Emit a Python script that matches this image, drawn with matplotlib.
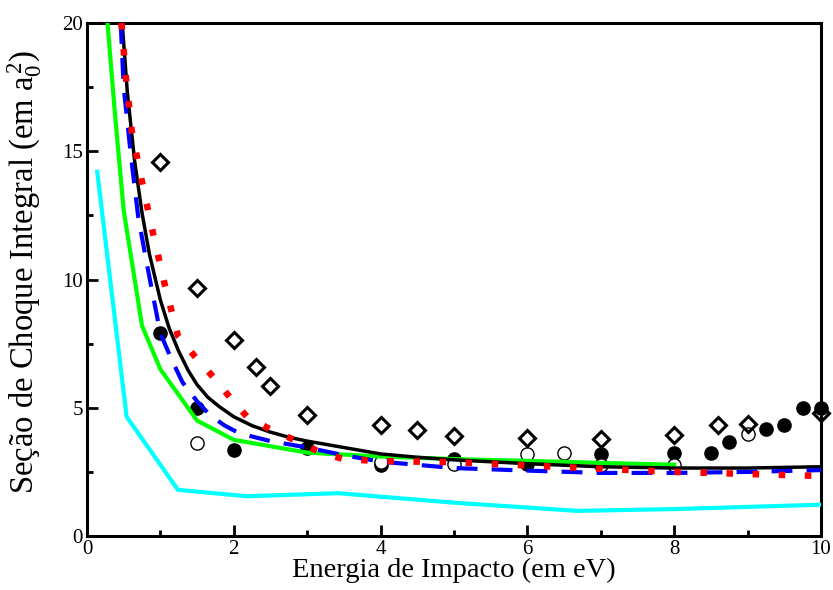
import numpy as np
import matplotlib
matplotlib.use("Agg")
import matplotlib.pyplot as plt

plt.rcParams['font.family'] = ['Liberation Serif', 'DejaVu Serif']
plt.rcParams['mathtext.fontset'] = 'custom'
plt.rcParams['mathtext.rm'] = 'Liberation Serif'
plt.rcParams['mathtext.it'] = 'Liberation Serif:italic'

# curves (theory)
black_x = [0.48, 0.55, 0.65, 0.75, 0.85, 1.0, 1.12, 1.25, 1.38, 1.5, 1.65, 1.8, 2.0, 2.25, 2.5, 2.75, 3.0, 3.5, 4.0, 4.5, 5.0, 6.0, 7.0, 8.0, 9.0, 10.0]
black_y = [20.0, 17.3, 14.6, 12.6, 11.0, 9.2, 8.1, 7.2, 6.45, 5.9, 5.4, 5.05, 4.65, 4.3, 4.05, 3.85, 3.7, 3.45, 3.2, 3.07, 2.97, 2.82, 2.7, 2.65, 2.65, 2.7]

blue_x = [0.46, 0.5, 0.6, 0.7, 0.83, 1.0, 1.15, 1.3, 1.5, 1.68, 1.88, 2.08, 2.5, 3.0, 3.5, 4.0, 5.0, 6.0, 7.0, 8.0, 9.0, 10.0]
blue_y = [20.0, 17.5, 14.8, 12.4, 10.4, 7.9, 6.9, 6.0, 5.25, 4.7, 4.3, 4.0, 3.7, 3.45, 3.15, 2.9, 2.65, 2.55, 2.46, 2.46, 2.5, 2.57]

red_x = [0.47, 0.53, 0.61, 0.75, 0.9, 1.06, 1.24, 1.47, 1.72, 1.95, 2.18, 2.49, 2.83, 3.15, 3.49, 4.0, 5.0, 6.0, 7.0, 8.0, 9.0, 10.0]
red_y = [20.0, 17.9, 15.8, 13.8, 11.8, 9.8, 7.8, 7.0, 6.2, 5.4, 4.65, 4.17, 3.74, 3.3, 3.0, 2.92, 2.88, 2.75, 2.62, 2.5, 2.42, 2.34]

green_x = [0.28, 0.38, 0.5, 0.75, 1.0, 1.5, 2.0, 3.0, 4.0, 5.0, 6.0, 7.0, 8.0]
green_y = [20.0, 16.5, 12.7, 8.2, 6.5, 4.5, 3.75, 3.25, 3.1, 3.0, 2.93, 2.85, 2.78]

cyan_x = [0.14, 0.54, 1.24, 2.18, 3.42, 5.0, 6.68, 8.0, 10.0]
cyan_y = [14.2, 4.65, 1.8, 1.55, 1.67, 1.3, 0.98, 1.05, 1.22]

# experimental points
diam_x = [1.0, 1.5, 2.0, 2.3, 2.5, 3.0, 4.0, 4.5, 5.0, 6.0, 7.0, 8.0, 8.6, 9.0, 10.0]
diam_y = [14.6, 9.67, 7.64, 6.6, 5.86, 4.72, 4.33, 4.13, 3.9, 3.83, 3.8, 3.93, 4.33, 4.37, 4.78]

filled_x = [1.0, 1.5, 2.0, 3.0, 4.0, 5.0, 6.0, 7.0, 8.0, 8.5, 8.75, 9.25, 9.5, 9.75, 10.0]
filled_y = [7.9, 5.0, 3.35, 3.43, 2.75, 3.0, 2.8, 3.2, 3.24, 3.24, 3.67, 4.17, 4.33, 5.0, 5.0]

open_x = [1.5, 4.0, 5.0, 6.0, 6.5, 7.0, 8.0, 9.0]
open_y = [3.62, 2.9, 2.8, 3.2, 3.25, 2.77, 2.77, 3.98]

fig = plt.figure(figsize=(8.33, 5.90), dpi=100)
ax = fig.add_axes([0.1044, 0.0915, 0.8812, 0.8695])

ax.plot(filled_x, filled_y, 'o', color='black', ms=9.5, zorder=2, clip_on=False)
ax.plot(open_x, open_y, 'o', mfc='white', mec='black', mew=1.0, ms=9.5, zorder=2.5, clip_on=False)

ax.plot(cyan_x, cyan_y, color='#00ffff', lw=3, zorder=3)
ax.plot(green_x, green_y, color='#00ff00', lw=3, zorder=3)
ax.plot(black_x, black_y, color='black', lw=2.5, zorder=3.2)
ax.plot(blue_x, blue_y, color='#0000ff', lw=3, linestyle=(0, (5, 3.4)), zorder=3.3)
ax.plot(red_x, red_y, color='#ff0000', lw=4.7, linestyle=(0, (1, 3)),
        dash_capstyle='butt', zorder=3.4)

ax.plot(diam_x, diam_y, 'D', mfc='none', mec='black', mew=2.2, ms=8, zorder=4, clip_on=False)

ax.set_xlim(0, 10)
ax.set_ylim(0, 20)
ax.set_xticks(np.arange(0, 11, 2))
ax.set_xticks(np.arange(1, 10, 2), minor=True)
ax.set_yticks(np.arange(0, 21, 5))
ax.set_yticks(np.arange(2.5, 20, 5), minor=True)

for s in ax.spines.values():
    s.set_linewidth(2.2)
ax.tick_params(which='both', direction='in', width=2, labelsize=15, top=False, right=False)
ax.tick_params(which='major', length=8, pad=3)
ax.tick_params(which='minor', length=4.5)

ax.set_xlabel('Energia de Impacto (em eV)', fontsize=20.5, labelpad=-1)
ax.set_ylabel(r'Seção de Choque Integral (em a$_0^{\,2}$)', fontsize=23.5, labelpad=0)
ax.yaxis.set_label_coords(-0.058, 0.515)

fig.savefig('out.png', dpi=100)
